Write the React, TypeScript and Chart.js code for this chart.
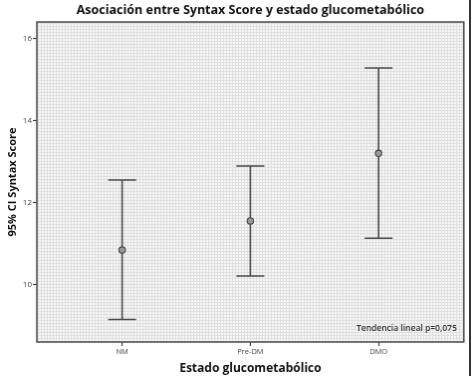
import React, { useEffect, useRef } from "react";
import { Chart, registerables } from "chart.js";

Chart.register(...registerables);

const categories = ["NM", "Pre-DM", "DMO"];
const means = [10.85, 11.56, 13.21];
const lowerCI = [9.16, 10.22, 11.14];
const upperCI = [12.56, 12.9, 15.29];
const yTicks = [10, 12, 14, 16];
const titleText = "Asociación entre Syntax Score y estado glucometabólico";
const xTitle = "Estado glucometabólico";
const yTitle = "95% CI Syntax Score";
const note = "Tendencia lineal p=0,075";

const FONT = "'Open Sans', 'Noto Sans', sans-serif";

function makePattern(ctx: CanvasRenderingContext2D) {
  const c = document.createElement("canvas");
  c.width = 3;
  c.height = 3;
  const p = c.getContext("2d")!;
  p.fillStyle = "#f6f6f6";
  p.fillRect(0, 0, 3, 3);
  p.fillStyle = "#e0e0e0";
  p.fillRect(0, 2, 3, 1);
  p.fillRect(2, 0, 1, 3);
  return ctx.createPattern(c, "repeat")!;
}

const bgPlugin = {
  id: "bgPattern",
  beforeDraw(chart: any) {
    const { ctx, chartArea } = chart;
    ctx.save();
    ctx.fillStyle = makePattern(ctx);
    ctx.fillRect(chartArea.left, chartArea.top, chartArea.right - chartArea.left, chartArea.bottom - chartArea.top);
    ctx.restore();
  },
};

const errPlugin = {
  id: "errBars",
  beforeDatasetsDraw(chart: any) {
    const { ctx } = chart;
    const xs = chart.scales.x;
    const ys = chart.scales.y;
    ctx.save();
    ctx.strokeStyle = "#4a4a4a";
    ctx.lineWidth = 1.6;
    categories.forEach((_, i) => {
      const x = xs.getPixelForValue(i + 1);
      const yl = ys.getPixelForValue(lowerCI[i]);
      const yu = ys.getPixelForValue(upperCI[i]);
      ctx.beginPath();
      ctx.moveTo(x, yl);
      ctx.lineTo(x, yu);
      ctx.moveTo(x - 14, yl);
      ctx.lineTo(x + 14, yl);
      ctx.moveTo(x - 14, yu);
      ctx.lineTo(x + 14, yu);
      ctx.stroke();
    });
    ctx.restore();
  },
  afterDraw(chart: any) {
    const { ctx, chartArea } = chart;
    ctx.save();
    ctx.strokeStyle = "#4a4a4a";
    ctx.lineWidth = 1.5;
    ctx.strokeRect(chartArea.left, chartArea.top, chartArea.right - chartArea.left, chartArea.bottom - chartArea.top);
    ctx.fillStyle = "#333";
    ctx.font = `600 8.5px ${FONT}`;
    ctx.textAlign = "right";
    ctx.textBaseline = "middle";
    ctx.fillText(note, chartArea.right - 7, chartArea.bottom - 13);
    ctx.fillStyle = "#111";
    ctx.font = `bold 12.5px ${FONT}`;
    ctx.textAlign = "center";
    ctx.fillText(titleText, (chartArea.left + chartArea.right) / 2, 10);
    ctx.restore();
  },
};

export default function App() {
  const ref = useRef<HTMLCanvasElement>(null);
  useEffect(() => {
    document.body.style.margin = "0";
    const chart = new Chart(ref.current!, {
      type: "scatter",
      data: {
        datasets: [
          {
            data: means.map((m, i) => ({ x: i + 1, y: m })),
            pointRadius: 3.2,
            pointBackgroundColor: "#9a9a9a",
            pointBorderColor: "#4a4a4a",
            pointBorderWidth: 1.2,
          },
        ],
      },
      options: {
        animation: false,
        responsive: false,
        layout: { padding: { right: 5, top: 22, left: 0, bottom: 0 } },
        plugins: {
          legend: { display: false },
          tooltip: { enabled: false },
          title: { display: false },
        },
        scales: {
          x: {
            type: "linear",
            min: 0.335,
            max: 3.665,
            afterBuildTicks: (s: any) => {
              s.ticks = categories.map((_, i) => ({ value: i + 1 }));
            },
            afterFit: (s: any) => {
              s.height = 34;
            },
            grid: { drawOnChartArea: false, drawTicks: true, tickLength: 4, color: "#444", tickWidth: 1.2 },
            border: { display: false },
            ticks: {
              color: "#444",
              font: { family: FONT, size: 7.5 },
              padding: 1,
              callback: (v: any) => categories[Math.round(v) - 1] ?? "",
            },
            title: {
              display: true,
              text: xTitle,
              color: "#111",
              font: { family: FONT, size: 12, weight: "bold" },
              padding: { top: 1, bottom: 0 },
            },
          },
          y: {
            type: "linear",
            min: 8.61,
            max: 16.41,
            afterBuildTicks: (s: any) => {
              s.ticks = yTicks.map((v) => ({ value: v }));
            },
            afterFit: (s: any) => {
              s.width = 37;
            },
            grid: { drawOnChartArea: false, drawTicks: true, tickLength: 4, color: "#444", tickWidth: 1.2 },
            border: { display: false },
            ticks: {
              color: "#444",
              font: { family: FONT, size: 8 },
              padding: 1,
            },
            title: {
              display: true,
              text: yTitle,
              color: "#111",
              font: { family: FONT, size: 11, weight: "bold" },
              padding: { top: 6, bottom: 0 },
            },
          },
        },
      },
      plugins: [bgPlugin, errPlugin],
    });
    return () => chart.destroy();
  }, []);
  return (
    <div style={{ position: "absolute", left: 0, top: 0, width: 473, height: 376, background: "#fff" }}>
      <canvas ref={ref} width={471} height={376} style={{ display: "block", borderRight: "2px solid #333" }} />
    </div>
  );
}
